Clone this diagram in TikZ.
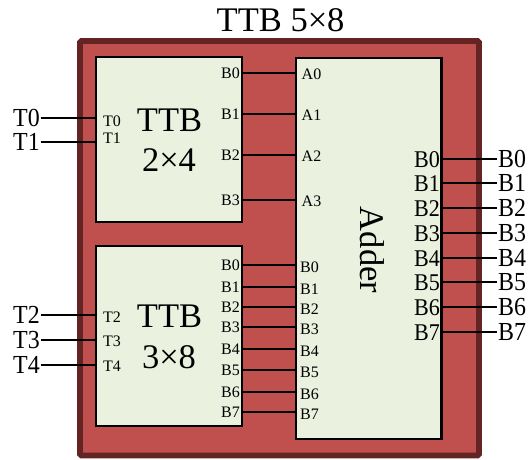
\documentclass[tikz,border=0pt]{standalone}
\usepackage{fontspec}
\setmainfont{Liberation Serif}
\newfontfamily\narrowserif[FakeStretch=0.92]{Liberation Serif}
\definecolor{redfill}{RGB}{192,80,77}
\definecolor{redborder}{RGB}{99,36,35}
\definecolor{boxfill}{RGB}{234,241,222}
\begin{document}
\begin{tikzpicture}[x=1pt,y=-1pt,
  blk/.style={draw=black,line width=2.2pt,fill=boxfill},
  wire/.style={draw=black,line width=2pt},
  pinL/.style={inner sep=0pt,anchor=west,font=\fontsize{16}{16}\selectfont},
  pinR/.style={inner sep=0pt,anchor=east,font=\fontsize{16}{16}\selectfont},
  outL/.style={inner sep=0pt,anchor=east,font=\narrowserif\fontsize{26}{26}\selectfont},
  outR/.style={inner sep=0pt,anchor=west,font=\narrowserif\fontsize{26}{26}\selectfont},
  addR/.style={inner sep=0pt,anchor=east,font=\narrowserif\fontsize{24}{24}\selectfont},
  big/.style={inner sep=0pt,font=\fontsize{34.5}{34.5}\selectfont}]
\useasboundingbox (0,0) rectangle (530,459);
\node[big] (title) at (280.6,20) {TTB 5×8};
\draw[draw=redborder,fill=redfill,line width=5.7pt,rounded corners=1.5pt] (80,41) rectangle (479,455.5);
\draw[blk] (96.3,56.7) rectangle (242.1,221.7);
\draw[blk] (96.3,245.7) rectangle (242.1,426);
\draw[blk] (295.8,57.7) rectangle (441.5,439.3);
\node[big] (t24a) at (169.5,120) {TTB};
\node[big] (t24b) at (169,160) {2×4};
\node[big] (t38a) at (169.5,316) {TTB};
\node[big] (t38b) at (169,357) {3×8};
\node[big,rotate=-90] (adder) at (372,250) {Adder};
% 2x4 to adder
\foreach \i/\y in {0/73,1/114,2/155,3/200}{
  \coordinate (p\i) at (242.1,\y);
  \coordinate (a\i) at (295.8,\y);
  \draw[wire] (p\i) -- (a\i);
  \node[pinR] (pl\i) at (240,\y) {B\i};
  \node[pinL] (al\i) at (301.5,\y+1) {A\i};
}
% 3x8 to adder
\foreach \i/\y in {0/265,1/287,2/307,3/327,4/349,5/370,6/392,7/412}{
  \coordinate (q\i) at (242.1,\y);
  \coordinate (b\i) at (295.8,\y);
  \draw[wire] (q\i) -- (b\i);
  \node[pinR] (ql\i) at (240,\y) {B\i};
  \node[pinL] (bl\i) at (300,\y+2) {B\i};
}
% adder outputs
\foreach \i/\y in {0/159,1/183,2/208,3/233,4/258,5/282,6/307,7/332}{
  \coordinate (o\i) at (441.5,\y);
  \coordinate (e\i) at (496.7,\y);
  \draw[wire] (o\i) -- (e\i);
  \node[addR] (ol\i) at (440,\y+1) {B\i};
  \node[outR] (xl\i) at (498,\y) {B\i};
}
% inputs
\foreach \n/\y/\ly in {0/118/121.7,1/142/138.3,2/315/316.7,3/340/341.7,4/365/366.7}{
  \coordinate (s\n) at (40.6,\y);
  \coordinate (d\n) at (96.3,\y);
  \draw[wire] (s\n) -- (d\n);
  \node[outL] (tl\n) at (40,\y) {T\n};
  \node[pinL] (ti\n) at (103,\ly) {T\n};
}
\end{tikzpicture}
\end{document}
